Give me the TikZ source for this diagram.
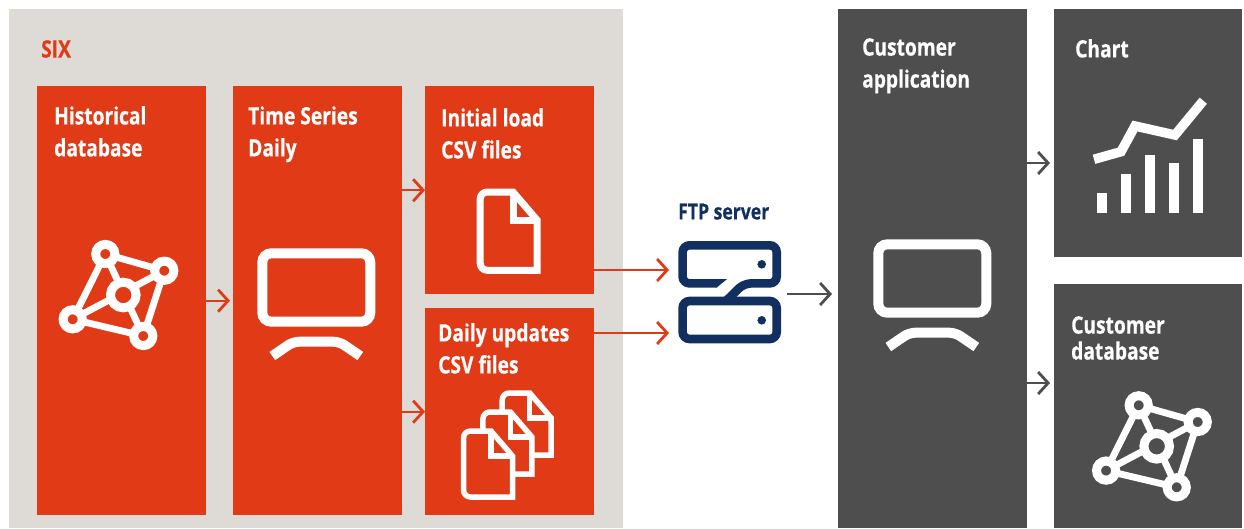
\documentclass[tikz,border=0pt]{standalone}
\usepackage{fontspec}
\setmainfont[FakeStretch=0.8,BoldFeatures={FakeBold=0.4}]{Open Sans}
\usetikzlibrary{arrows.meta}
\definecolor{sixred}{HTML}{E03A17}
\definecolor{sixgrey}{HTML}{DEDBD6}
\definecolor{custgrey}{HTML}{4E4E4E}
\definecolor{ftpblue}{HTML}{12305F}
\tikzset{
  redbox/.style={fill=sixred,anchor=north west,inner sep=0pt},
  greybox/.style={fill=custgrey,anchor=north west,inner sep=0pt},
  boxtext/.style={anchor=north west,inner sep=0pt,align=left,text=white,font=\fontsize{24}{32}\selectfont\bfseries},
  redarrow/.style={draw=sixred,line width=2.4pt,-{Straight Barb[length=10pt,width=22pt,line width=2.8pt]}},
  greyarrow/.style={draw=custgrey,line width=2.4pt,-{Straight Barb[length=10pt,width=22pt,line width=2.8pt]}},
  pics/netpic/.style={code={
    \draw[white,line width=6.8pt] (-18,-41) -- (41,-24.3) -- (20,41) -- (-50.6,24.3) -- cycle;
    \draw[white,line width=6.8pt] (-18,-41) -- (20,41) (41,-24.3) -- (-50.6,24.3);
    \foreach \px/\py in {-18/-41,41/-24.3,-50.6/24.3,20/41}
      \draw[white,fill=#1,line width=9pt] (\px,\py) circle (9.6pt);
    \draw[white,fill=#1,line width=9pt] (0,0) circle (12.8pt);
  }},
  pics/monitorpic/.style={code={
    \draw[white,line width=10pt,rounded corners=9pt] (-54,-34.2) rectangle (54,34.2);
    \draw[white,line width=10pt,rounded corners=6pt] (-44,68.5) -- (-23,54.2) -- (23,54.2) -- (44,68.5);
  }},
  pics/docpic/.style n args={5}{code={
    \draw[white,fill=sixred,line width=#5pt,miter limit=10] (#1,#2) [rounded corners=7pt] -- (0,#2) -- (0,0) [sharp corners] -- (#3,0) -- (#1,#4) -- cycle;
    \draw[white,line width=#5pt] (#3,0) -- (#3,#4) -- (#1,#4);
  }}
}
\begin{document}
\begin{tikzpicture}[x=1pt,y=-1pt]
   \useasboundingbox (0,0) rectangle (1244,528);
   % left panel
   \node[fill=sixgrey,anchor=north west,inner sep=0pt,minimum width=614pt,minimum height=519pt] (six) at (9,9) {};
   \node[redbox,minimum width=169pt,minimum height=429pt] (hist) at (37,86) {};
   \node[redbox,minimum width=169pt,minimum height=429pt] (series) at (233,86) {};
   \node[redbox,minimum width=169pt,minimum height=208pt] (initial) at (425,86) {};
   \node[redbox,minimum width=169pt,minimum height=207pt] (updates) at (425,308) {};
   % right side
   \node[greybox,minimum width=189pt,minimum height=519pt] (app) at (838,9) {};
   \node[greybox,minimum width=188pt,minimum height=248pt] (chart) at (1054,9) {};
   \node[greybox,minimum width=188pt,minimum height=244pt] (custdb) at (1054,284) {};
   \node[anchor=north west,inner sep=0pt,minimum width=103pt,minimum height=103pt] (ftp) at (678,241) {};
   % texts
   \node[boxtext,text=sixred] (sixlabel) at (41,40) {SIX};
   \node[boxtext] (histlabel) at (54,106) {Historical\\database};
   \node[boxtext] (serieslabel) at (248,106) {Time Series\\Daily};
   \node[boxtext] (initlabel) at (441,108) {Initial load\\CSV files};
   \node[boxtext] (updlabel) at (438,323) {Daily updates\\CSV files};
   \node[boxtext] (applabel) at (862,38) {Customer\\application};
   \node[boxtext] (chartlabel) at (1075,39) {Chart};
   \node[boxtext,font=\fontsize{24}{26}\selectfont\bfseries] (dblabel) at (1071,316) {Customer\\database};
   \node[boxtext,text=ftpblue,font=\fontsize{22}{24}\selectfont\bfseries] (ftplabel) at (678,203.5) {FTP server};
   % icons
   \pic at (123.3,295) {netpic=sixred};
   \pic at (1156.7,446.3) {netpic=custgrey};
   \pic at (316.3,287.5) {monitorpic};
   \pic at (932.3,278.5) {monitorpic};
   \pic at (480.2,192) {docpic={56.8}{78.3}{32.8}{28}{7}};
   \pic at (502.2,393) {docpic={49}{62}{27.5}{25}{5.5}};
   \pic at (482.9,412) {docpic={49}{62}{27.5}{25}{5.5}};
   \pic at (463.5,431) {docpic={49}{66}{27.5}{25}{5.5}};
   % chart icon
   \foreach \bx/\by in {1097/193,1121/174,1145/155,1169/163,1193/139}
     \fill[white] (\bx,\by) rectangle (\bx+10,212.7);
   \draw[white,line width=9.5pt] (1094,159.3) -- (1121,151.7) -- (1135,126) -- (1175,135) -- (1203.3,100.7);
   % ftp icon
   \draw[ftpblue,line width=8.6pt,rounded corners=7pt] (682.6,301) rectangle (776.7,339);
   \draw[ftpblue,line width=8.6pt,rounded corners=7pt] (717,283.4) -- (682.6,283.4) -- (682.6,245.3) -- (776.7,245.3) -- (776.7,283.4) -- (744,283.4) -- (726,301);
   \fill[ftpblue] (716.5,279.1) -- (727,279.1) -- (716.5,287.7) -- cycle;
   \fill[ftpblue] (761.7,264.3) circle (4.3pt);
   \fill[ftpblue] (761.7,320.3) circle (4.3pt);
   % arrows
   \coordinate (ftpa) at (669,270);
   \coordinate (ftpb) at (669,333);
   \coordinate (ftpout) at (787,294);
   \coordinate (appin) at (832,294);
   \coordinate (chartin) at (1050,163);
   \coordinate (dbin) at (1050,383);
   \draw[redarrow,shorten >=3pt] (hist.east) -- (series.west);
   \draw[redarrow] (series.east |- initial.west) -- (initial.west);
   \draw[redarrow] (series.east |- updates.west) -- (updates.west);
   \draw[redarrow] (initial.east |- ftpa) -- (ftpa);
   \draw[redarrow] (updates.east |- ftpb) -- (ftpb);
   \draw[greyarrow] (ftpout) -- (appin);
   \draw[greyarrow] (app.east |- chartin) -- (chartin);
   \draw[greyarrow] (app.east |- dbin) -- (dbin);
\end{tikzpicture}
\end{document}
